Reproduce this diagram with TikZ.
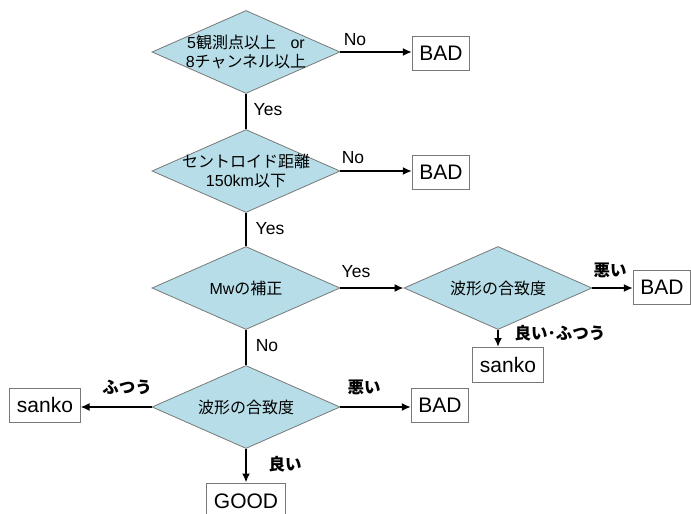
\documentclass[tikz,border=0pt]{standalone}
\usepackage{fontspec}
\setmainfont{Liberation Sans}
\newfontfamily\cjk{Noto Sans CJK JP}
\usetikzlibrary{shapes.geometric,arrows.meta}
\definecolor{dfill}{RGB}{183,222,232}
\definecolor{dline}{RGB}{120,120,120}
\begin{document}
\begin{tikzpicture}[x=1pt,y=-1pt,
  diam/.style={shape=diamond, draw=dline, line width=0.8pt, fill=dfill, inner sep=0pt, minimum width=188pt, minimum height=83pt},
  dtext/.style={font=\fontsize{16}{19.5}\selectfont, align=center, inner sep=0pt},
  box/.style={draw=dline, line width=1pt, fill=white, minimum height=34pt, inner xsep=7pt, font=\fontsize{21}{24}\selectfont},
  lab/.style={font=\fontsize{17.5}{19}\selectfont, inner sep=0pt},
  jlab/.style={font=\fontsize{16.5}{18}\selectfont\cjk\bfseries, inner sep=0pt},
  arr/.style={line width=2.8pt, -{Latex[length=9pt,width=8pt]}},
  ln/.style={line width=2.8pt}
]
\useasboundingbox (0,0) rectangle (691,514);
% decision diamonds
\node[diam, label={[dtext]center:5{\cjk 観測点以上}\hspace{0.9em}or\\8{\cjk チャンネル以上}}] (d1) at (246,52) {};
\node[diam, label={[dtext]center:{\cjk セントロイド距離}\\150km{\cjk 以下}}] (d2) at (246,171) {};
\node[diam, label={[dtext]center:Mw{\cjk の補正}}] (d3) at (246,288) {};
\node[diam, label={[dtext]center:{\cjk 波形の合致度}}] (d4) at (498,288) {};
\node[diam, label={[dtext]center:{\cjk 波形の合致度}}] (d5) at (246,407) {};
% result boxes
\node[box] (bad1) at (441,53) {BAD};
\node[box] (bad2) at (441,172) {BAD};
\node[box] (bad3) at (662,287) {BAD};
\node[box, minimum height=35pt] (sanko2) at (508,365) {sanko};
\node[box] (sanko1) at (45,405) {sanko};
\node[box] (bad4) at (440,405) {BAD};
\node[box, minimum height=36pt] (good) at (246,501) {GOOD};
% connectors
\draw[arr] (d1.east) -- (d1.east -| bad1.west);
\draw[ln] (d1.south) -- (d2.north);
\draw[arr] (d2.east) -- (d2.east -| bad2.west);
\draw[ln] (d2.south) -- (d3.north);
\draw[arr] (d3.east) -- (d4.west);
\draw[arr] (d4.east) -- (d4.east -| bad3.west);
\draw[arr] (d4.south) -- (d4.south |- sanko2.north);
\draw[ln] (d3.south) -- (d5.north);
\draw[arr] (d5.west) -- (d5.west -| sanko1.east);
\draw[arr] (d5.east) -- (d5.east -| bad4.west);
\draw[arr] (d5.south) -- (d5.south |- good.north);
% connector labels
\node[lab] (l1) at (355,40) {No};
\node[lab] (l2) at (268,110) {Yes};
\node[lab] (l3) at (353,158) {No};
\node[lab] (l4) at (270,229) {Yes};
\node[lab] (l5) at (356,272) {Yes};
\node[jlab] (l6) at (610,270) {悪い};
\node[jlab] (l7) at (560,333) {良い･ふつう};
\node[lab] (l8) at (267,346) {No};
\node[jlab] (l9) at (127,387) {ふつう};
\node[jlab] (l10) at (364,387) {悪い};
\node[jlab] (l11) at (285,464) {良い};
\end{tikzpicture}
\end{document}
